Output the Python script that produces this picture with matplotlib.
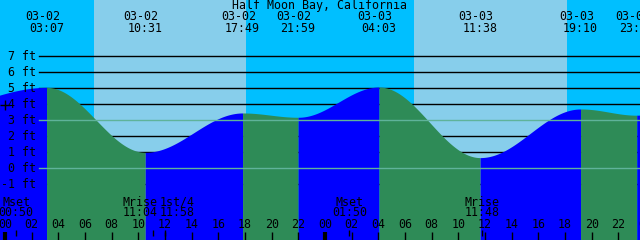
import numpy as np
import matplotlib
matplotlib.use("Agg")
import matplotlib.pyplot as plt

title = "Half Moon Bay, California"

# high / low tide events (first and last lie outside the window)
tide_dates = ["03-01", "03-02", "03-02", "03-02", "03-02", "03-03", "03-03", "03-03", "03-03", "03-04"]
tide_clock = ["18:07", "03:07", "10:31", "17:49", "21:59", "04:03", "11:38", "19:10", "23:23", "05:00"]
tide_ft = [3.58, 5.04, 0.98, 3.44, 3.17, 5.06, 0.65, 3.69, 3.30, 5.10]

sun_dates = ["03-02", "03-03"]
sunrise = ["06:40", "06:41"]
sunset = ["18:05", "18:09"]

moon_names = ["Mset", "Mrise", "1st/4", "Mset", "Mrise"]
moon_dates = ["03-02", "03-02", "03-02", "03-03", "03-03"]
moon_clock = ["00:50", "11:04", "11:58", "01:50", "11:48"]

ft_levels = [7, 6, 5, 4, 3, 2, 1, 0, -1]
marker_ft = 3.94

NIGHT = "#00bfff"
DAY = "#87ceeb"
FALL = "#2e8b57"
RISE = "#0000ff"
MEAN = "#5fb39a"


def hours(date, clock):
    day = int(date[3:]) - 2
    hh, mm = clock.split(":")
    return day * 24 + int(hh) + int(mm) / 60


t_ev = [hours(d, c) for d, c in zip(tide_dates, tide_clock)]

plt.rcParams["font.family"] = "DejaVu Sans Mono"
fs = 8.4

fig = plt.figure(figsize=(6.4, 2.4), dpi=100)
ax = fig.add_axes([0, 0, 1, 1])
x0, x1 = -5 / (40 / 3), 635 / (40 / 3)
ax.set_xlim(x0, x1)
ax.set_ylim(-4.5, 10.5)
ax.axis("off")

# day / night bands
ax.axvspan(x0, x1, color=NIGHT, zorder=0, lw=0)
for d, r, s in zip(sun_dates, sunrise, sunset):
    ax.axvspan(hours(d, r), hours(d, s), color=DAY, zorder=0, lw=0)

# level lines
for lv in ft_levels:
    if lv in (0, 3):
        ax.axhline(lv, xmin=39 / 640, color=MEAN, lw=1, zorder=3)
    else:
        ax.axhline(lv, xmin=39 / 640, color="black", lw=1, zorder=1)
    ax.text(36 / (40 / 3) + x0, lv, f"{lv} ft", ha="right", va="center",
            fontsize=fs, zorder=5)

# tide curve, cosine between extremes
for i in range(len(t_ev) - 1):
    ta, tb = t_ev[i], t_ev[i + 1]
    ha_, hb = tide_ft[i], tide_ft[i + 1]
    t = np.linspace(ta, tb, 200)
    h = ha_ + (hb - ha_) * (1 - np.cos(np.pi * (t - ta) / (tb - ta))) / 2
    col = RISE if hb > ha_ else FALL
    ax.fill_between(t, -4.5, h, color=col, lw=0, zorder=2)

ax.plot([0], [marker_ft], marker="+", color="black", ms=7, mew=1, zorder=4)

# top labels
ax.text(320 / (40 / 3) + x0, 10.13, title, ha="center", va="center", fontsize=fs)
for i in range(1, len(t_ev) - 1):
    ax.text(t_ev[i] - 0.3, 9.44, tide_dates[i], ha="center", va="center", fontsize=fs)
    ax.text(t_ev[i], 8.75, tide_clock[i], ha="center", va="center", fontsize=fs)

# moon events, pushed apart when they would overlap
t_moon = [hours(d, c) for d, c in zip(moon_dates, moon_clock)]
pos = list(t_moon)
for i in range(len(pos) - 1):
    if pos[i + 1] - pos[i] < 2.6:
        mid = (pos[i] + pos[i + 1]) / 2
        pos[i], pos[i + 1] = mid - 1.4, mid + 1.4
for t, p, n, c in zip(t_moon, pos, moon_names, moon_clock):
    ax.text(p, -2.13, n, ha="center", va="center", fontsize=fs)
    ax.text(p, -2.81, c, ha="center", va="center", fontsize=fs)
    ax.vlines(t, -4.25, -3.88, color="black", lw=1)

# hour ticks
for hr in range(0, 50, 2):
    ax.text(hr, -3.56, f"{hr % 24:02d}", ha="center", va="center", fontsize=fs)
    ax.vlines(hr, -4.5, -4.0, color="black", lw=1)
for hr in (0, 24):
    ax.vlines(hr, -4.5, -4.0, color="black", lw=3)

fig.savefig("out.png", dpi=100)
